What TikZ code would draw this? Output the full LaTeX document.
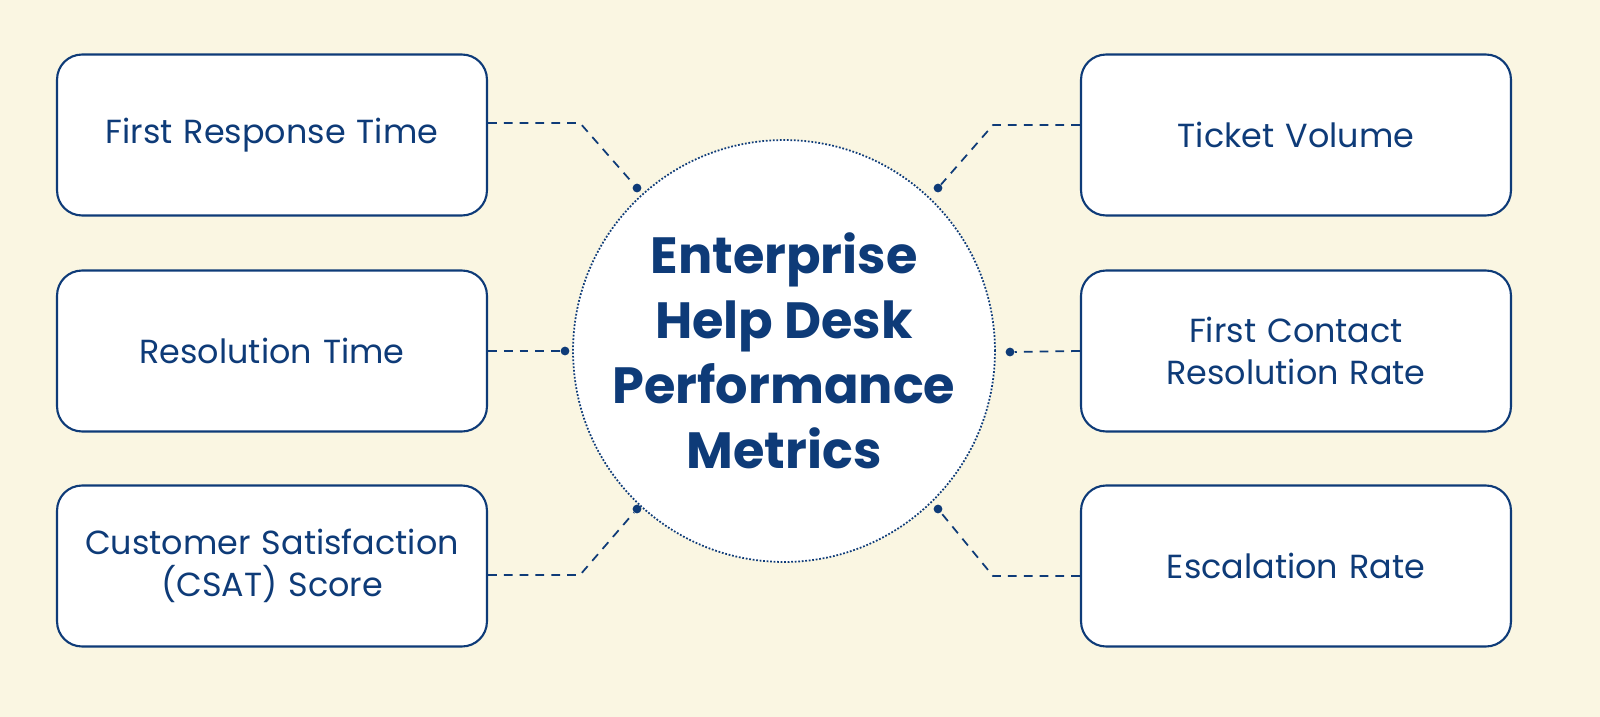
\documentclass[tikz,border=0pt]{standalone}
\usepackage{fontspec}
\setmainfont{Poppins}
\usetikzlibrary{positioning}
\definecolor{paper}{HTML}{FAF6E2}
\definecolor{navy}{HTML}{0E3B78}
\tikzset{
  metric/.style={draw=navy, line width=1.2pt, rounded corners=0.5cm, fill=white,
    minimum width=8.6cm, minimum height=3.22cm, text width=8cm, align=center,
    text=navy, font=\fontsize{19}{24}\selectfont},
  link/.style={navy, dashed, line width=1pt, dash pattern=on 5pt off 4pt},
  tip/.style={circle, fill=navy, inner sep=0pt, minimum size=5pt}
}
\begin{document}
\begin{tikzpicture}[x=0.02cm,y=-0.02cm]
\useasboundingbox (0,0) rectangle (1600,717);
\fill[paper] (0,0) rectangle (1600,717);
% hub
\node[circle, draw=navy, densely dotted, line width=1pt, fill=white, minimum size=8.44cm,
  inner sep=0pt, align=center, text=navy, font=\fontsize{29}{37}\selectfont\bfseries] (hub) at (784,351)
  {Enterprise\\Help Desk\\Performance\\Metrics};
% left boxes
\node[metric] (frt) at (272,135) {First Response Time};
\node[metric] (res) at (272,351) {Resolution Time};
\node[metric] (csat) at (272,566) {Customer Satisfaction\\(CSAT) Score};
% right boxes
\node[metric] (vol) at (1296,135) {Ticket Volume};
\node[metric] (fcr) at (1296,351) {First Contact\\Resolution Rate};
\node[metric] (esc) at (1296,566) {Escalation Rate};
% dots on the hub
\node[tip] (d1) at (637,188) {};
\node[tip] (d2) at (565,351) {};
\node[tip] (d3) at (637,509) {};
\node[tip] (d4) at (938,188) {};
\node[tip] (d5) at (1010,352) {};
\node[tip] (d6) at (938,509) {};
% links
\draw[link] (frt.east |- 0,123) -- (580,123) -- (d1);
\draw[link] (res.east) -- (d2);
\draw[link] (csat.east |- 0,575) -- (580,575) -- (d3);
\draw[link] (vol.west |- 0,125) -- (993,125) -- (d4);
\draw[link] (fcr.west) -- (d5);
\draw[link] (esc.west |- 0,576) -- (993,576) -- (d6);
\end{tikzpicture}
\end{document}
